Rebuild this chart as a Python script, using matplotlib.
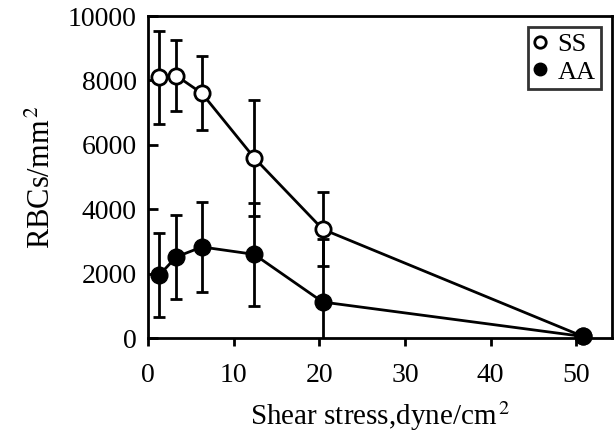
import matplotlib.pyplot as plt
import numpy as np

plt.rcParams['font.family'] = ['Liberation Serif', 'DejaVu Serif']
plt.rcParams['mathtext.fontset'] = 'stix'

# shear stress (dyne/cm^2)
shear = [1.3, 3.3, 6.3, 12.4, 20.4, 50.8]

# SS red cells adhered
ss = [8100, 8150, 7600, 5600, 3380, 50]
ss_err = [1450, 1100, 1150, 1800, 1150, 0]

# AA red cells adhered
aa = [1950, 2520, 2830, 2600, 1120, 50]
aa_err = [1300, 1300, 1400, 1600, 1950, 0]

fig = plt.figure(figsize=(6.14, 4.34), dpi=100)
ax = fig.add_axes([0.241, 0.221, 0.756, 0.742])

# error bars (clipped at the axes)
ax.errorbar(shear, ss, yerr=ss_err, fmt='none', ecolor='black', capsize=4.5,
            capthick=2, elinewidth=2, zorder=2)
ax.errorbar(shear, aa, yerr=aa_err, fmt='none', ecolor='black', capsize=4.5,
            capthick=2, elinewidth=2, zorder=2)

# lines and markers
ax.plot(shear, ss, color='black', lw=2, marker='o', ms=11, mfc='white',
        mec='black', mew=2, label='SS', clip_on=False, zorder=3)
ax.plot(shear, aa, color='black', lw=2, marker='o', ms=12, mfc='black',
        mec='black', label='AA', clip_on=False, zorder=3)

ax.set_xlim(0, 54.2)
ax.set_ylim(0, 10000)
ax.set_xticks([0, 10, 20, 30, 40, 50])
ax.set_yticks([0, 2000, 4000, 6000, 8000, 10000])
ax.tick_params(axis='x', direction='out', length=6, width=2, labelsize=20, pad=12)
ax.tick_params(axis='y', direction='in', length=7, width=2, labelsize=20, pad=8)
for s in ax.spines.values():
    s.set_linewidth(2)

ax.set_xlabel('Shear stress,dyne/cm$^{\\,2}$', fontsize=21, labelpad=8)
ax.set_ylabel('RBCs/mm$^{\\,2}$', fontsize=22, labelpad=8)

leg = ax.legend(loc='upper right', fontsize=19, frameon=True, fancybox=False,
                edgecolor='black', handlelength=0.5, handletextpad=0.4,
                borderpad=0.2, labelspacing=0.15, markerscale=0.75,
                borderaxespad=0, bbox_to_anchor=(0.975, 0.965))
leg.get_frame().set_linewidth(2)
for lh in leg.legend_handles:
    lh.set_linestyle('none')

fig.savefig('out.png', dpi=100)
